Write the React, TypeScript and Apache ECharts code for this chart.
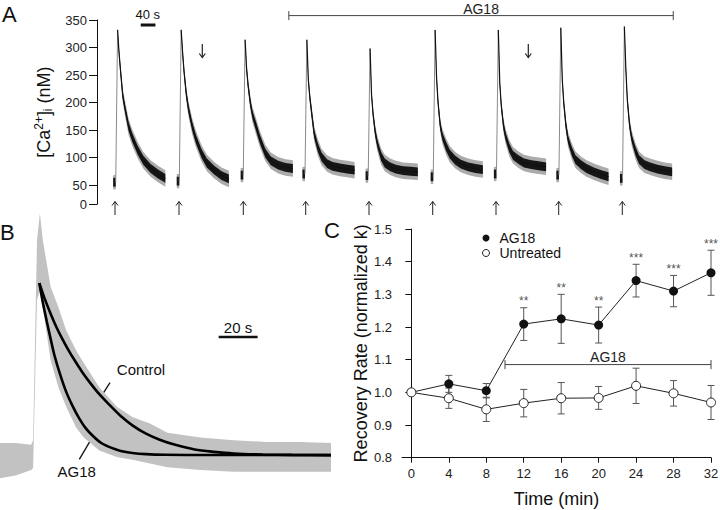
import React, { useEffect, useRef } from "react";
import * as echarts from "echarts";

const FONT = '"Liberation Sans", Arial, Helvetica, sans-serif';

// ---------- Panel A : [Ca2+]i traces ----------
const aStimTimes = [56, 229, 403, 571, 743, 920, 1092, 1262, 1435]; // s, spike onset
const aOffsets = [0, 4, 8, 14, 20, 30, 40, 55, 70, 90, 110, 130]; // s after onset
const aTrace1 = [332, 290, 258, 213, 190, 156, 136, 113, 95, 80, 70, 62];
const aTrace2 = [332, 290, 255, 215, 188, 157, 134, 108, 90, 77, 67, 61];
const aTrace3 = [314, 262, 232, 200, 178, 156, 134, 108, 94, 86, 82, 80];
const aTrace4 = [314, 242, 210, 176, 143, 118, 101, 89, 84, 81, 79, 77];
const aTrace5 = [298, 215, 180, 146, 125, 102, 90, 83, 79, 76, 75, 74];
const aTrace6 = [332, 245, 200, 158, 138, 120, 106, 95, 88, 83, 80, 78];
const aTrace7 = [332, 235, 195, 158, 138, 117, 104, 96, 90, 87, 85, 83];
const aTrace8 = [336, 242, 200, 158, 132, 111, 96, 87, 80, 74, 69, 65];
const aTrace9 = [338, 262, 205, 160, 135, 112, 96, 87, 83, 79, 76, 74];
const aTraces = [aTrace1, aTrace2, aTrace3, aTrace4, aTrace5, aTrace6, aTrace7, aTrace8, aTrace9];
const aPreValues = [55, 57, 68, 70, 67, 65, 70, 68, 62];
const aCoreSpread = [2, 5, 6, 7, 7, 8, 8, 8, 8, 8, 8, 8];
const aNoiseSpread = [3, 9, 11, 13, 14, 15, 15, 15, 15, 15, 15, 15];
const aYTicks = [15, 50, 100, 150, 200, 250, 300, 350];
const aYTickLabels = ["0", "50", "100", "150", "200", "250", "300", "350"];
const aAG18 = [522, 1568, 358]; // start, end (s), level
const aScaleBar = [[119, 341], [159, 341]]; // 40 s

// ---------- Panel B : single response, fits ----------
const bTimes = [0, 8, 16, 17, 19, 20.5, 22, 26, 30, 34, 39, 43, 51, 60, 68, 77, 86, 103, 120, 137, 154, 170];
const bUpper = [83, 83, 81, 86, 301, 330, 301, 251, 229, 204, 183, 169, 143, 122, 111, 104, 94, 89, 86, 84, 84, 83];
const bLower = [45, 48, 54, 56, 237, 247, 229, 172, 143, 122, 100, 89, 75, 68, 65, 61, 57, 54, 52, 52, 52, 52];
const bControlTimes = [20.2, 23, 26, 29, 32, 35, 38, 42, 46, 51, 56, 62, 68, 75, 82, 90, 100, 110, 120, 135, 150, 170];
const bControl = [255, 238, 222, 207.5, 195, 183.5, 173, 160, 148.5, 135.5, 124.5, 112, 102, 93, 86.5, 81, 76, 73.5, 71.8, 70.7, 70.2, 70];
const bAG18Times = [20.2, 22, 24, 26, 28, 31, 34, 37, 40, 44, 48, 52, 57, 62, 68, 75, 85, 100, 170];
const bAG18 = [255, 234, 214, 195, 177, 156, 138, 124, 112, 99, 90, 83, 78, 74.5, 72.3, 71, 70.3, 70.1, 70];
const bScaleBar = [[112.3, 197], [132.3, 197]]; // 20 s

// ---------- Panel C : recovery rate ----------
const cTimes = [0, 4, 8, 12, 16, 20, 24, 28, 32];
const cAG18 = [1.0, 1.026, 1.005, 1.209, 1.225, 1.206, 1.342, 1.31, 1.366];
const cAG18Err = [0, 0.026, 0.022, 0.05, 0.075, 0.055, 0.05, 0.048, 0.069];
const cUntreated = [1.0, 0.982, 0.948, 0.967, 0.982, 0.983, 1.02, 0.997, 0.969];
const cUntreatedErr = [0, 0.031, 0.037, 0.042, 0.048, 0.035, 0.054, 0.039, 0.052];
const cStarTimes = [12, 16, 20, 24, 28, 32];
const cStars = ["**", "**", "**", "***", "***", "***"];
const cAG18Bar = [10, 32, 1.085];
const cXTicks = [0, 4, 8, 12, 16, 20, 24, 28, 32];

function renderATrace(params: any, api: any) {
  const i = params.dataIndex;
  const t0 = aStimTimes[i];
  const vals = aTraces[i];
  const pre = aPreValues[i];
  const P = (t: number, v: number) => api.coord([t, v]);
  const band = (spread: number[]) => {
    const up = aOffsets.map((o, k) => P(t0 + o, vals[k] + spread[k]));
    const lo = aOffsets.map((o, k) => P(t0 + o, vals[k] - spread[k])).reverse();
    return up.concat(lo);
  };
  const blip = (s: number) => [P(t0 - 12, pre + s), P(t0 - 5, pre + s), P(t0 - 5, pre - s), P(t0 - 12, pre - s)];
  const center = aOffsets.map((o, k) => P(t0 + o, vals[k]));
  return {
    type: "group",
    children: [
      { type: "polygon", shape: { points: band(aNoiseSpread) }, style: { fill: "#ababab" } },
      { type: "polygon", shape: { points: blip(13) }, style: { fill: "#ababab" } },
      { type: "polygon", shape: { points: band(aCoreSpread) }, style: { fill: "#161616" } },
      { type: "polygon", shape: { points: blip(8) }, style: { fill: "#161616" } },
      { type: "polyline", shape: { points: [P(t0 - 5, pre), P(t0, vals[0])] }, style: { stroke: "#8a8a8a", lineWidth: 1, fill: null } },
      { type: "polyline", shape: { points: center }, style: { stroke: "#111", lineWidth: 1.2, fill: null } },
    ],
  };
}

function renderBTrace(params: any, api: any) {
  const up = bTimes.map((t, k) => api.coord([t, bUpper[k]]));
  const lo = bTimes.map((t, k) => api.coord([t, bLower[k]])).reverse();
  return { type: "polygon", shape: { points: up.concat(lo) }, style: { fill: "#c2c2c2" } };
}

function renderErr(params: any, api: any) {
  const x = api.value(0);
  const a = api.coord([x, api.value(1)]);
  const b = api.coord([x, api.value(2)]);
  const w = 3.5;
  const st = { stroke: "#555", lineWidth: 1 };
  return {
    type: "group",
    children: [
      { type: "line", shape: { x1: a[0], y1: a[1], x2: b[0], y2: b[1] }, style: st },
      { type: "line", shape: { x1: a[0] - w, y1: a[1], x2: a[0] + w, y2: a[1] }, style: st },
      { type: "line", shape: { x1: b[0] - w, y1: b[1], x2: b[0] + w, y2: b[1] }, style: st },
    ],
  };
}

function makeBracket(offset: number) {
  return (params: any, api: any) => {
    const y = api.value(2);
    const a = api.coord([api.value(0), y]);
    const b = api.coord([api.value(1), y]);
    const st = { stroke: "#444", lineWidth: 1 };
    return {
      type: "group",
      children: [
        { type: "line", shape: { x1: a[0], y1: a[1], x2: b[0], y2: b[1] }, style: st },
        { type: "line", shape: { x1: a[0], y1: a[1] - 4.5, x2: a[0], y2: a[1] + 4.5 }, style: st },
        { type: "line", shape: { x1: b[0], y1: b[1] - 4.5, x2: b[0], y2: b[1] + 4.5 }, style: st },
        {
          type: "text",
          x: (a[0] + b[0]) / 2,
          y: a[1] - offset,
          style: {
            text: "AG18", fontSize: 14, fontFamily: FONT, fill: "#222",
            align: "center", verticalAlign: "middle", textAlign: "center", textVerticalAlign: "middle",
          },
        },
      ],
    };
  };
}

function upArrow(x: number) {
  return [
    { type: "line", shape: { x1: x, y1: 215, x2: x, y2: 201.5 }, style: { stroke: "#222", lineWidth: 1 } },
    { type: "polyline", shape: { points: [[x - 3, 205.5], [x, 201.5], [x + 3, 205.5]] }, style: { stroke: "#222", lineWidth: 1, fill: null } },
  ];
}
function downArrow(x: number) {
  return [
    { type: "line", shape: { x1: x, y1: 44, x2: x, y2: 57.5 }, style: { stroke: "#222", lineWidth: 1.2 } },
    { type: "polyline", shape: { points: [[x - 3, 53.5], [x, 57.5], [x + 3, 53.5]] }, style: { stroke: "#222", lineWidth: 1.2, fill: null } },
  ];
}

function txt(text: string, x: number, y: number, size: number, align = "center") {
  return {
    type: "text", x, y,
    style: {
      text, fontSize: size, fontFamily: FONT, fill: "#111",
      align, verticalAlign: "middle", textAlign: align, textVerticalAlign: "middle",
    },
  };
}

function seg(x1: number, y1: number, x2: number, y2: number, w = 1.3) {
  return { type: "line", shape: { x1, y1, x2, y2 }, style: { stroke: "#111", lineWidth: w } };
}

export default function App() {
  const ref = useRef<HTMLDivElement>(null);
  useEffect(() => {
    if (!ref.current) return;
    const chart = echarts.init(ref.current, undefined, { renderer: "svg" });
    const axisLine = { show: true, lineStyle: { color: "#111", width: 1 } };
    const upX = [115, 179, 243.3, 305.7, 369, 432.7, 496, 558.7, 622.3];
    const option: any = {
      animation: false,
      backgroundColor: "#fff",
      textStyle: { fontFamily: FONT },
      legend: {
        left: 477,
        top: 226,
        orient: "vertical",
        itemWidth: 17,
        itemHeight: 7,
        itemGap: 1,
        textStyle: { fontSize: 14, color: "#111", fontFamily: FONT },
        data: [
          { name: "AG18", icon: "circle", itemStyle: { color: "#111", borderWidth: 0 } },
          { name: "Untreated", icon: "circle", itemStyle: { color: "#fff", borderColor: "#222", borderWidth: 1 } },
        ],
        selectedMode: false,
      },
      grid: [
        { left: 97, top: 20, width: 588, height: 184.25, outerBoundsMode: "none" },
        { left: 0, top: 204, width: 331, height: 279, outerBoundsMode: "none" },
        { left: 402, top: 229, width: 309, height: 228.7, outerBoundsMode: "none" },
      ],
      xAxis: [
        { type: "value", gridIndex: 0, min: 0, max: 1600, show: false },
        { type: "value", gridIndex: 1, min: 0, max: 170, show: false },
        {
          type: "value", gridIndex: 2, min: -1, max: 32,
          axisLine, splitLine: { show: false },
          axisTick: { show: true, length: 5, customValues: cXTicks, lineStyle: { color: "#111" } },
          axisLabel: { customValues: cXTicks, fontSize: 13, color: "#222", margin: 9 },
          name: "Time (min)", nameLocation: "middle", nameGap: 32,
          nameTextStyle: { fontSize: 18, color: "#111" },
        },
      ],
      yAxis: [
        {
          type: "value", gridIndex: 0, min: 15, max: 350,
          axisLine, splitLine: { show: false },
          axisTick: { show: true, length: 8, customValues: aYTicks, lineStyle: { color: "#111" } },
          axisLabel: {
            customValues: aYTicks, fontSize: 13, color: "#222", margin: 10,
            formatter: (v: number) => {
              const k = aYTicks.indexOf(Math.round(v));
              return k >= 0 ? aYTickLabels[k] : String(v);
            },
          },
          name: "[Ca{sup|2+}]{sub|i} (nM)",
          nameLocation: "middle", nameGap: 42, nameRotate: 90,
          nameTextStyle: {
            fontSize: 18, color: "#111",
            rich: {
              sup: { fontSize: 12, color: "#111", verticalAlign: "bottom", padding: [0, 0, 9, 0] },
              sub: { fontSize: 12, color: "#111", verticalAlign: "top", padding: [9, 0, 0, 0] },
            },
          },
        },
        { type: "value", gridIndex: 1, min: 40, max: 340, show: false },
        {
          type: "value", gridIndex: 2, min: 0.8, max: 1.5, interval: 0.1,
          axisLine, splitLine: { show: false },
          axisTick: { show: true, length: 6, lineStyle: { color: "#111" } },
          axisLabel: { fontSize: 13, color: "#222", margin: 10, formatter: (v: number) => v.toFixed(1) },
          name: "Recovery Rate (normalized k)", nameLocation: "middle", nameGap: 30, nameRotate: 90,
          nameTextStyle: { fontSize: 18, color: "#111" },
        },
      ],
      series: [
        {
          type: "custom", xAxisIndex: 0, yAxisIndex: 0,
          data: aStimTimes.map((t, i) => [t, aTraces[i][0], i]),
          encode: { x: 0, y: 1 },
          renderItem: renderATrace,
          silent: true,
        },
        {
          type: "custom", xAxisIndex: 0, yAxisIndex: 0,
          data: [aAG18], encode: { x: [0, 1], y: 2 },
          renderItem: makeBracket(7), silent: true, clip: false,
        },
        {
          type: "line", xAxisIndex: 0, yAxisIndex: 0, data: aScaleBar,
          symbol: "none", lineStyle: { color: "#111", width: 3 }, silent: true,
        },
        {
          type: "custom", xAxisIndex: 1, yAxisIndex: 1,
          data: [[bTimes[0], bUpper[0]]], encode: { x: 0, y: 1 },
          renderItem: renderBTrace, silent: true, z: 1,
        },
        {
          type: "line", xAxisIndex: 1, yAxisIndex: 1,
          data: bControlTimes.map((t, i) => [t, bControl[i]]),
          smooth: 0.3, symbol: "none",
          lineStyle: { color: "#000", width: 2.6 }, silent: true, z: 3,
        },
        {
          type: "line", xAxisIndex: 1, yAxisIndex: 1,
          data: bAG18Times.map((t, i) => [t, bAG18[i]]),
          smooth: 0.3, symbol: "none",
          lineStyle: { color: "#000", width: 2.6 }, silent: true, z: 3,
        },
        {
          type: "line", xAxisIndex: 1, yAxisIndex: 1, data: bScaleBar,
          symbol: "none", lineStyle: { color: "#111", width: 2.6 }, silent: true,
        },
        {
          type: "custom", xAxisIndex: 2, yAxisIndex: 2,
          data: cTimes.map((t, i) => [t, cUntreated[i] - cUntreatedErr[i], cUntreated[i] + cUntreatedErr[i]]).filter((d, i) => cUntreatedErr[i] > 0),
          encode: { x: 0, y: [1, 2] }, renderItem: renderErr, silent: true, z: 2,
        },
        {
          type: "custom", xAxisIndex: 2, yAxisIndex: 2,
          data: cTimes.map((t, i) => [t, cAG18[i] - cAG18Err[i], cAG18[i] + cAG18Err[i]]).filter((d, i) => cAG18Err[i] > 0),
          encode: { x: 0, y: [1, 2] }, renderItem: renderErr, silent: true, z: 2,
        },
        {
          type: "custom", xAxisIndex: 2, yAxisIndex: 2,
          data: [cAG18Bar], encode: { x: [0, 1], y: 2 },
          renderItem: makeBracket(8), silent: true,
        },
        {
          name: "AG18", type: "line", xAxisIndex: 2, yAxisIndex: 2,
          data: cTimes.map((t, i) => [t, cAG18[i]]),
          symbol: "circle", symbolSize: 9, showSymbol: true,
          itemStyle: { color: "#111", borderWidth: 0 },
          lineStyle: { color: "#222", width: 1 }, z: 4, silent: true,
        },
        {
          name: "Untreated", type: "line", xAxisIndex: 2, yAxisIndex: 2,
          data: cTimes.map((t, i) => [t, cUntreated[i]]),
          symbol: "circle", symbolSize: 9, showSymbol: true,
          itemStyle: { color: "#fff", borderColor: "#222", borderWidth: 1 },
          lineStyle: { color: "#222", width: 1 }, z: 5, silent: true,
        },
        {
          type: "scatter", xAxisIndex: 2, yAxisIndex: 2,
          data: cStarTimes.map((t) => {
            const k = cTimes.indexOf(t);
            return [t, cAG18[k] + cAG18Err[k]];
          }),
          symbolSize: 1, itemStyle: { color: "rgba(0,0,0,0)" }, silent: true,
          label: {
            show: true, position: "top", distance: 0, fontSize: 12, color: "#222",
            formatter: (p: any) => cStars[p.dataIndex],
          },
        },
      ],
      graphic: [
        txt("A", 2, 14, 22, "left"),
        txt("B", 0, 232, 22, "left"),
        txt("C", 324, 230, 22, "left"),
        txt("40 s", 147.7, 14.5, 13),
        txt("20 s", 238, 327.5, 15),
        txt("Control", 141, 369.5, 15),
        txt("AG18", 76.7, 471, 15),
        seg(110, 382.7, 96.7, 403.3),
        seg(91.7, 438.3, 79.3, 459.3),
        ...upX.flatMap((x) => upArrow(x)),
        ...downArrow(202.3),
        ...downArrow(528.3),
      ],
    };
    chart.setOption(option);
    return () => chart.dispose();
  }, []);
  return <div ref={ref} style={{ position: "fixed", left: 0, top: 0, width: 720, height: 510 }} />;
}
